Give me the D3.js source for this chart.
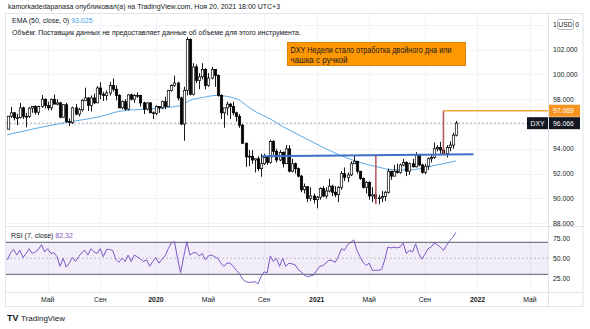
<!DOCTYPE html>
<html><head><meta charset="utf-8">
<script src="https://cdn.jsdelivr.net/npm/d3@7"></script>
<style>html,body{margin:0;padding:0;background:#fff;}svg{display:block;font-family:"Liberation Sans",Arial,sans-serif;}</style>
</head><body>
<svg id="c" width="590" height="329"></svg>
<script>
// ---------- DATA (weekly DXY) ----------
const firstWeek = "2019-02-04";
const opens = [95.58,96.63,96.90,96.50,96.51,97.30,96.60,96.62,97.28,97.40,96.95,97.40,98.00,97.50,97.30,97.99,97.60,97.70,96.55,97.55,96.20,96.13,97.30,96.80,97.15,97.90,98.10,97.50,98.10,97.70,98.90,98.40,98.30,98.50,99.10,98.80,98.30,97.30,97.80,97.20,98.35,98.00,98.30,98.30,97.70,97.20,97.70,96.90,
96.85,97.40,97.30,97.80,97.40,98.70,99.10,99.30,98.10,96.00,98.70,102.80,98.40,100.60,99.50,99.80,100.40,99.10,99.70,100.40,99.90,98.30,96.90,97.30,97.60,97.40,96.90,96.60,95.90,94.45,93.35,93.40,93.10,93.20,92.40,92.80,93.30,92.90,94.60,93.80,93.10,93.70,92.80,94.00,92.20,92.80,92.40,91.80,90.70,90.95,90.00,90.20,
89.90,90.10,90.80,90.20,90.60,91.00,90.50,90.30,90.90,92.00,91.70,91.90,92.80,93.00,92.20,91.60,90.90,91.30,90.20,90.30,90.00,90.05,90.15,90.50,92.20,91.80,92.20,92.10,92.70,92.90,92.20,92.80,92.55,93.50,92.70,92.10,92.60,93.20,93.30,94.00,94.10,93.90,93.60,94.10,94.30,95.10];
const highs = [96.65,97.37,96.96,96.83,97.70,97.40,96.90,97.35,97.45,97.50,97.45,98.33,98.05,97.80,98.05,98.37,98.00,97.80,97.60,97.70,96.45,97.40,97.60,97.30,98.00,98.93,98.15,98.30,98.45,99.05,99.37,98.60,98.70,99.40,99.67,99.10,98.40,97.90,98.00,98.40,98.45,98.40,98.55,98.35,97.80,97.75,97.75,97.00,
97.50,97.45,97.90,98.20,98.75,99.20,99.90,99.40,98.20,99.00,102.99,102.90,100.90,100.80,100.10,100.90,100.50,100.10,100.60,100.40,100.00,98.40,97.20,97.80,97.70,97.80,97.00,96.80,96.00,94.50,93.90,93.90,93.20,93.40,93.60,93.60,93.40,94.74,94.70,94.00,93.90,93.80,94.30,94.30,93.20,92.90,92.50,91.90,91.20,91.00,90.90,90.40,
90.20,90.90,91.00,90.90,91.60,91.10,91.00,91.00,92.20,92.50,92.10,93.00,93.44,93.00,92.20,91.70,91.40,91.40,90.90,90.50,90.30,90.60,90.60,92.40,92.20,92.70,92.80,92.80,93.19,93.00,92.90,93.20,93.73,93.50,92.80,92.80,93.30,93.50,94.50,94.30,94.56,94.00,94.30,94.60,95.30,96.25];
const lows = [95.56,96.50,96.29,95.90,96.45,96.40,95.74,96.50,96.90,96.75,96.70,97.30,97.25,97.10,97.10,97.60,97.50,96.46,96.50,96.10,95.84,96.00,96.70,96.60,97.00,97.85,97.05,97.00,97.60,97.70,98.00,97.85,97.90,98.30,98.60,97.90,97.30,97.20,97.10,97.10,97.90,97.70,98.10,97.40,96.80,97.10,96.90,96.40,
96.70,96.90,97.20,97.20,97.40,98.60,99.00,97.90,95.90,94.65,98.30,98.30,98.30,99.30,98.80,99.60,98.80,99.00,99.60,99.00,98.20,96.40,95.70,96.70,96.40,96.70,96.20,95.70,94.40,92.55,92.60,92.80,92.10,92.20,91.75,92.70,92.70,92.80,93.50,92.90,93.00,92.50,92.80,92.10,92.10,92.00,91.70,90.50,90.40,89.70,89.80,89.60,
89.20,89.90,90.10,90.00,90.50,90.20,90.10,89.70,90.70,91.40,91.30,91.80,92.80,92.00,91.50,90.80,90.40,89.90,89.70,89.65,89.53,89.70,89.80,90.40,91.50,91.80,92.00,92.00,92.60,91.80,91.90,92.50,92.50,92.60,92.00,91.95,92.30,92.90,93.20,93.80,93.60,93.50,93.30,93.80,94.00,95.00];
const closes = [96.63,96.90,96.50,96.51,97.30,96.60,96.62,97.28,97.40,96.95,97.40,98.00,97.50,97.30,97.99,97.60,97.70,96.55,97.55,96.20,96.13,97.30,96.80,97.15,97.90,98.10,97.50,98.10,97.70,98.90,98.40,98.30,98.50,99.10,98.80,98.30,97.30,97.80,97.20,98.35,98.00,98.30,98.30,97.70,97.20,97.70,96.90,96.85,
97.40,97.30,97.80,97.40,98.70,99.10,99.30,98.10,96.00,98.70,102.80,98.40,100.60,99.50,99.80,100.40,99.10,99.70,100.40,99.90,98.30,96.90,97.30,97.60,97.40,96.90,96.60,95.90,94.45,93.35,93.40,93.10,93.20,92.40,92.80,93.30,92.90,94.60,93.80,93.10,93.70,92.80,94.00,92.20,92.80,92.40,91.80,90.70,90.95,90.00,90.20,89.90,
90.10,90.80,90.20,90.60,91.00,90.50,90.30,90.90,92.00,91.70,91.90,92.80,93.00,92.20,91.60,90.90,91.30,90.20,90.30,90.00,90.05,90.15,90.50,92.20,91.80,92.20,92.10,92.70,92.90,92.20,92.80,92.55,93.50,92.70,92.10,92.60,93.20,93.30,94.00,94.10,93.90,93.60,94.10,94.30,95.10,96.066];
// RSI(7) read per bar
const rsiValues = [48,57,61,54,60,51,56,62,56,58,61,67,58,62,56,57,52,40,50,39,44,51,46,52,57,60,54,62,58,56,62,52,61,61,60,49,45,50,46,54,46,54,52,49,46,48,40,46,
51,44,49,53,62,69,71,50,32,52,71,54,57,57,53,56,48,53,54,52,50,44,40,44,44,40,35,31,24,21,20,20,21,18,27,33,32,53,46,50,40,50,40,44,43,42,36,33,29,27,28,29,
35,40,41,44,48,47,45,52,62,60,67,70,73,60,52,45,41,44,35,35,35,36,48,64,63,64,63,64,69,56,60,58,68,56,49,55,62,64,69,67,64,60,66,72,76,82.32];
// EMA(50) points: bar index / value
const emaBars = [0,8.4,19.4,30,36.5,46.2,52.6,55.9,59.1,63.5,67.7,74.2,77.4,80.7,85,89.1,93.6,97.9,101.5,107,114,120.5,124,130,136.6,145];
const emaVals = [95.14,95.6,96.14,96.6,97.03,97.22,97.35,97.49,97.9,98.15,98.3,98.03,97.49,96.95,96.41,95.8,95.2,94.66,94.2,93.55,92.9,92.5,92.32,92.3,92.58,93.025];
const priceTicks = [88,90,92,94,96,98,100,102,104];
const rsiTicks = [25,50,75];
const timeTickDates = ["2019-05-06","2019-09-02","2020-01-06","2020-05-04","2020-09-07","2021-01-04","2021-05-03","2021-09-06","2022-01-03","2022-05-02"];
const timeTickLabels = ["Май","Сен","2020","Май","Сен","2021","Май","Сен","2022","Май"];
// drawings (bar index, price)
const neckline = [[82.3,93.40],[150.8,93.56]];
const riseLeft = [[119.2,89.53],[119.2,93.47]];
const riseRight = [[141,93.55],[141,97.069]];
const targetLevel = 97.069;
const lastPrice = 96.066;
const emaLast = "93.025", rsiLast = "82.32";
const headerText = "kamorkadedapanasa опубликовал(а) на TradingView.com, Ноя 20, 2021 18:00 UTC+3";
const noteLines = ["DXY Недели стало отработка двойного дна или","чашка с ручкой"];

// ---------- LAYOUT ----------
const L = 6, R = 548, AX = 583, T = 14, PB = 227, RB = 292, TB = 307;
const svg = d3.select("#c");
const n = closes.length;
const parse = d3.timeParse("%Y-%m-%d");
const start = parse(firstWeek);
const dates = d3.range(n).map(i => d3.timeDay.offset(start, 7 * i));
const xt = d3.scaleTime().domain([dates[0], dates[n - 1]]).range([7.5, 455.8]);
const xi = i => xt(d3.timeDay.offset(start, 7 * i));
const y = d3.scaleLinear().domain([88, 104]).range([223.3, 24.7]);
const yr = d3.scaleLinear().domain([0, 100]).range([298.3, 218.3]);

const grid = "#F0F3FA", border = "#E0E3EB", txt = "#131722";

// gridlines
const tickX = timeTickDates.map(d => xt(parse(d)));
svg.append("g").selectAll("line").data(tickX).join("line")
  .attr("x1", d => Math.round(d) + 0.5).attr("x2", d => Math.round(d) + 0.5)
  .attr("y1", T).attr("y2", RB).attr("stroke", grid);
svg.append("g").selectAll("line").data(priceTicks).join("line")
  .attr("x1", L).attr("x2", R).attr("y1", d => Math.round(y(d)) + 0.5).attr("y2", d => Math.round(y(d)) + 0.5)
  .attr("stroke", grid);

svg.append("clipPath").attr("id", "pc").append("rect").attr("x", L).attr("y", T).attr("width", R - L).attr("height", PB - T);
svg.append("clipPath").attr("id", "rc").append("rect").attr("x", L).attr("y", PB).attr("width", R - L).attr("height", RB - PB);

const pg = svg.append("g").attr("clip-path", "url(#pc)");
pg.append("line").attr("x1", L).attr("x2", R).attr("y1", y(lastPrice)).attr("y2", y(lastPrice))
  .attr("stroke", "#9598A1").attr("stroke-width", 0.8).attr("stroke-dasharray", "2,2");

// EMA
const emaLine = d3.line().x(d => xi(d[0])).y(d => y(d[1])).curve(d3.curveMonotoneX);
pg.append("path").attr("d", emaLine(emaBars.map((b, k) => [b, emaVals[k]])))
  .attr("fill", "none").attr("stroke", "#5AA9E6").attr("stroke-width", 1);

// candles
const idx = d3.range(n);
pg.append("g").selectAll("line").data(idx).join("line")
  .attr("x1", i => Math.round(xi(i)) + 0.5).attr("x2", i => Math.round(xi(i)) + 0.5)
  .attr("y1", i => y(highs[i])).attr("y2", i => y(lows[i]))
  .attr("stroke", "#000").attr("stroke-width", 0.9);
pg.append("g").selectAll("rect").data(idx).join("rect")
  .attr("x", i => Math.round(xi(i)) - 0.7)
  .attr("width", 2.4)
  .attr("y", i => y(Math.max(opens[i], closes[i])))
  .attr("height", i => Math.max(0.8, Math.abs(y(opens[i]) - y(closes[i]))))
  .attr("fill", i => closes[i] >= opens[i] ? "#fff" : "#000")
  .attr("stroke", "#000").attr("stroke-width", 0.7);

// drawings
const pl = d3.line().x(d => xi(d[0])).y(d => y(d[1]));
pg.append("path").attr("d", pl(neckline)).attr("stroke", "#3F6FC6").attr("stroke-width", 2).attr("fill", "none");
pg.append("path").attr("d", pl(riseLeft)).attr("stroke", "#B4545A").attr("stroke-width", 1.5).attr("fill", "none");
pg.append("path").attr("d", pl(riseRight)).attr("stroke", "#B4545A").attr("stroke-width", 1.5).attr("fill", "none");
pg.append("line").attr("x1", xi(riseRight[0][0])).attr("x2", R).attr("y1", y(targetLevel)).attr("y2", y(targetLevel))
  .attr("stroke", "#F5A33A").attr("stroke-width", 1.5);

// RSI pane
const rg = svg.append("g").attr("clip-path", "url(#rc)");
rg.append("rect").attr("x", L).attr("width", R - L).attr("y", yr(70)).attr("height", yr(30) - yr(70))
  .attr("fill", "#7E57C2").attr("fill-opacity", 0.1);
[70, 30].forEach(v => rg.append("line").attr("x1", L).attr("x2", R).attr("y1", yr(v)).attr("y2", yr(v))
  .attr("stroke", "#787B86").attr("stroke-width", 1.2));
rg.append("line").attr("x1", L).attr("x2", R).attr("y1", yr(50)).attr("y2", yr(50))
  .attr("stroke", "#B2B5BE").attr("stroke-width", 0.8).attr("stroke-dasharray", "2,2");
rg.append("path").attr("d", d3.line().x((d, i) => xi(i)).y(d => yr(d))(rsiValues))
  .attr("fill", "none").attr("stroke", "#7E57C2").attr("stroke-width", 1);

// frame lines
const fr = svg.append("g").attr("stroke", border).attr("fill", "none");
fr.append("rect").attr("x", L - 0.5).attr("y", T - 0.5).attr("width", AX - L + 0.5).attr("height", TB - T);
fr.append("line").attr("x1", L).attr("x2", AX).attr("y1", PB - 0.5).attr("y2", PB - 0.5);
fr.append("line").attr("x1", L).attr("x2", AX).attr("y1", RB + 0.5).attr("y2", RB + 0.5);
fr.append("line").attr("x1", R + 0.5).attr("x2", R + 0.5).attr("y1", T).attr("y2", TB);

// price axis labels (the top one is partly covered by the USD badge)
const fs = 6.8;
const topTick = priceTicks[priceTicks.length - 1];
svg.append("g").selectAll("text").data(priceTicks.slice(0, -1)).join("text")
  .attr("x", 553).attr("y", d => y(d) + 2.4).attr("font-size", fs).attr("fill", txt)
  .text(d => d3.format(".3f")(d));
const topLabel = d3.format(".3f")(topTick);
svg.append("text").attr("x", 553).attr("y", y(topTick) + 2.4).attr("font-size", fs).attr("fill", txt).text(topLabel.slice(0, 1));
svg.append("text").attr("x", 575.2).attr("y", y(topTick) + 2.4).attr("font-size", fs).attr("fill", txt).text(topLabel.slice(-1));
svg.append("rect").attr("x", 557.5).attr("y", 19.5).attr("width", 16).attr("height", 10).attr("rx", 2)
  .attr("fill", "#fff").attr("stroke", "#B2B5BE");
svg.append("text").attr("x", 565.5).attr("y", 27).attr("text-anchor", "middle").attr("font-size", fs).attr("fill", txt).text("USD");
// rsi axis labels
svg.append("g").selectAll("text").data(rsiTicks).join("text")
  .attr("x", 553).attr("y", d => yr(d) + 2.4).attr("font-size", fs).attr("fill", txt)
  .text(d => d3.format(".2f")(d));
// orange target label
svg.append("rect").attr("x", R + 1).attr("y", y(targetLevel) - 6).attr("width", 31).attr("height", 12).attr("fill", "#F7931E");
svg.append("text").attr("x", 553).attr("y", y(targetLevel) + 2.4).attr("font-size", fs).attr("fill", "#fff").text(d3.format(".3f")(targetLevel));
// last price labels
svg.append("rect").attr("x", 527).attr("y", y(lastPrice) - 6).attr("width", 21).attr("height", 12).attr("fill", "#131722");
svg.append("text").attr("x", 537.5).attr("y", y(lastPrice) + 2.4).attr("text-anchor", "middle").attr("font-size", fs).attr("fill", "#fff").text("DXY");
svg.append("rect").attr("x", R + 1).attr("y", y(lastPrice) - 6).attr("width", 31).attr("height", 12).attr("fill", "#131722");
svg.append("text").attr("x", 553).attr("y", y(lastPrice) + 2.4).attr("font-size", fs).attr("fill", "#fff").text(d3.format(".3f")(lastPrice));

// time axis labels
svg.append("g").selectAll("text").data(timeTickDates).join("text")
  .attr("x", d => xt(parse(d))).attr("y", 301.5).attr("text-anchor", "middle").attr("font-size", fs)
  .attr("font-weight", (d, k) => /^\d+$/.test(timeTickLabels[k]) ? "bold" : "normal")
  .attr("fill", txt).text((d, k) => timeTickLabels[k]);

// legends
svg.append("text").attr("x", 8).attr("y", 9).attr("font-size", 7).attr("fill", txt).text(headerText);
const e = svg.append("text").attr("x", 12).attr("y", 22.5).attr("font-size", 7).attr("fill", txt);
e.append("tspan").text("EMA (50, close, 0) ");
e.append("tspan").attr("fill", "#3FA0E8").text(emaLast);
svg.append("text").attr("x", 12).attr("y", 34.5).attr("font-size", 7).attr("fill", txt)
  .text("Объём: Поставщик данных не предоставляет данные об объеме для этого инструмента.");
const r = svg.append("text").attr("x", 11).attr("y", 237.5).attr("font-size", 7).attr("fill", txt);
r.append("tspan").text("RSI (7, close) ");
r.append("tspan").attr("fill", "#7E57C2").text(rsiLast);

// note box
const nb = svg.append("g");
nb.append("rect").attr("x", 287.5).attr("y", 42.5).attr("width", 178).attr("height", 23)
  .attr("fill", "#FF9800").attr("stroke", "#E08400");
const noteWidths = [161, 57];
nb.selectAll("text").data(noteLines).join("text")
  .attr("x", 290.5).attr("y", (d, k) => 52.5 + k * 10).attr("font-size", 8.6).attr("fill", "#131722")
  .attr("textLength", (d, k) => noteWidths[k]).attr("lengthAdjust", "spacingAndGlyphs").text(d => d);

// TradingView logo
const lg = svg.append("g");
lg.append("text").attr("x", 7).attr("y", 321).attr("font-size", 9).attr("font-weight", "bold").attr("fill", txt).text("TV");
lg.append("text").attr("x", 21).attr("y", 321).attr("font-size", 8).attr("fill", txt).text("TradingView");
</script>
</body></html>
